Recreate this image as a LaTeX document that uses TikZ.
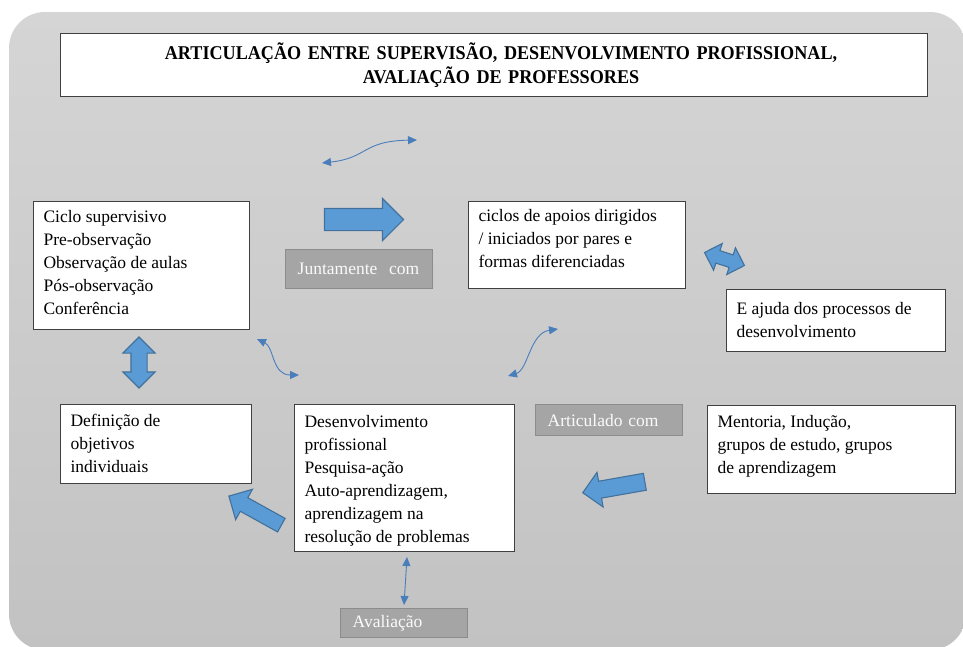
\documentclass[tikz,border=0pt]{standalone}
\usepackage{fontspec}
\setmainfont{Liberation Serif}
\newfontfamily\ttlfamily[FakeStretch=0.93]{Liberation Serif}
\usetikzlibrary{shapes.arrows,arrows.meta}
\definecolor{bgtop}{RGB}{213,213,213}
\definecolor{bgbot}{RGB}{194,194,194}
\definecolor{boxline}{RGB}{64,64,64}
\definecolor{greyfill}{RGB}{165,165,165}
\definecolor{greyline}{RGB}{140,140,140}
\definecolor{blockfill}{RGB}{91,155,213}
\definecolor{blockline}{RGB}{65,113,156}
\definecolor{linkblue}{RGB}{74,126,187}
\newcommand\bxfont{\fontsize{17.5}{23}\selectfont}
\newcommand\ttlfont{\ttlfamily\bfseries\fontsize{19.5}{24}\selectfont}
% text block of a white box: width, height, first baseline below the top, lines
\newcommand\boxtext[4]{\parbox[c][#2pt][t]{#1pt}{\rule{0pt}{#3pt}#4}}

\begin{document}
\begin{tikzpicture}[x=1pt,y=-1pt,
  wbox/.style={draw=boxline,fill=white,line width=1.1pt,anchor=north west,
    inner xsep=10pt,inner ysep=0pt,font=\bxfont},
  gbox/.style={draw=greyline,fill=greyfill,line width=1.4pt,anchor=north west,
    align=left,inner xsep=12pt,inner ysep=0pt,text=white!96!gray,font=\bxfont},
  block/.style={fill=blockfill,draw=blockline,line width=1.1pt,inner xsep=0pt},
  onearrow/.style={block,single arrow,single arrow head extend=#1},
  twoarrow/.style={block,double arrow,double arrow head extend=#1},
  link/.style={draw=linkblue,line width=0.9pt,
    {Triangle[length=9pt,width=8pt]}-{Triangle[length=9pt,width=8pt]}}
]
\useasboundingbox (0,0) rectangle (963,646);
% panel
\shade[top color=bgtop,bottom color=bgbot,rounded corners=36pt] (9,12) rectangle (966,650);

% title
\node[wbox,align=center,text width=847pt,minimum height=63pt,font=\ttlfont] (title) at (60,33)
  {\hspace*{14pt}ARTICULAÇÃO ENTRE SUPERVISÃO, DESENVOLVIMENTO PROFISSIONAL,\\
   \hspace*{14pt}AVALIAÇÃO DE PROFESSORES};

% white boxes
\node[wbox] (ciclo) at (33,201)
  {\boxtext{196}{128}{21}{Ciclo supervisivo\\Pre-observação\\Observação de aulas\\Pós-observação\\Conferência}};
\node[wbox] (apoios) at (468,201)
  {\boxtext{197}{87}{20}{ciclos de apoios dirigidos\\/ iniciados por pares e\\formas diferenciadas}};
\node[wbox] (ajuda) at (726,289)
  {\boxtext{199}{62}{25}{E ajuda dos processos de\\desenvolvimento}};
\node[wbox] (objetivos) at (60,404)
  {\boxtext{171}{79}{22}{Definição de\\objetivos\\individuais}};
\node[wbox] (desenv) at (294,404)
  {\boxtext{200}{147}{23}{Desenvolvimento\\profissional\\Pesquisa-ação\\Auto-aprendizagem,\\aprendizagem na\\resolução de problemas}};
\node[wbox] (mentoria) at (707,405)
  {\boxtext{228}{88}{22}{Mentoria, Indução,\\grupos de estudo, grupos\\de aprendizagem}};

% grey labels
\node[gbox,text width=123pt,minimum height=39pt] (junt) at (285,249) {Juntamente\ \ com};
\node[gbox,text width=123pt,minimum height=31pt] (artic) at (535,404) {Articulado com};
\node[gbox,text width=103pt,minimum height=29pt] (aval) at (340,608) {Avaliação};

% block arrows: inner ysep is half the shaft width
\node[onearrow=10pt,inner ysep=10.5pt,minimum height=79pt] (arrJ) at (358.5,219.5) {};
\node[onearrow=9.6pt,inner ysep=7.2pt,minimum height=60pt,rotate=151] (arrO) at (258.5,512.5) {};
\node[onearrow=9pt,inner ysep=8pt,minimum height=63pt,rotate=190] (arrM) at (618,486.5) {};
\node[twoarrow=8pt,inner ysep=7.5pt,minimum height=51pt,rotate=90] (arrC) at (139,362.5) {};
\node[twoarrow=7.5pt,inner ysep=6pt,minimum height=42pt,rotate=-18] (arrA) at (724.5,259) {};

% thin curved links
\coordinate (t1) at (322,163); \coordinate (t2) at (417,140);
\draw[link] (t1) .. controls (368,158) and (362,141) .. (t2);
\coordinate (c1) at (257,339); \coordinate (c2) at (299,375);
\draw[link] (c1) .. controls (274,347) and (272,375) .. (c2);
\coordinate (d1) at (508,376); \coordinate (d2) at (558,329);
\draw[link] (d1) .. controls (528,370) and (530,333) .. (d2);
\coordinate (v1) at (407,557); \coordinate (v2) at (404,605);
\draw[link] (v1) -- (v2);
\end{tikzpicture}
\end{document}
